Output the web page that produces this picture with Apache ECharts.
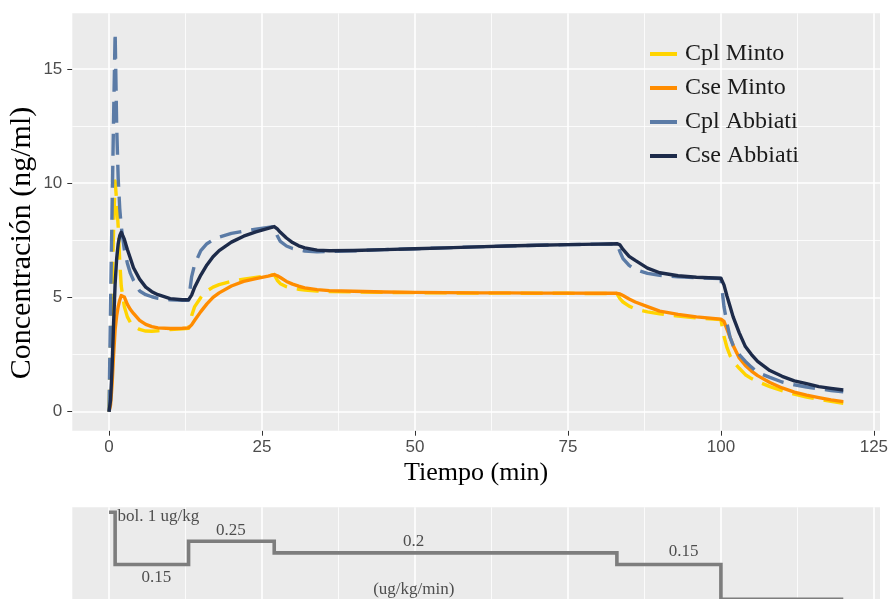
<!DOCTYPE html>
<html>
<head>
<meta charset="utf-8">
<title>Concentración plasmática y en sitio efecto</title>
<script src="https://cdn.jsdelivr.net/npm/echarts@6/dist/echarts.min.js"></script>
<style>
  html, body { margin: 0; padding: 0; background: #ffffff; }
  #chart { width: 893px; height: 599px; }
</style>
</head>
<body>
<div id="chart"></div>
<script>
// Simulated concentrations (ng/ml) against time (min)
const tiempo = [0, 0.25, 0.5, 0.75, 1, 1.25, 1.5, 1.75, 2, 2.5, 3, 3.5, 4, 5, 6, 7, 8, 10, 12, 13,
  13.5, 14, 15, 16, 17, 18, 20, 22, 24, 26, 27, 27.5, 28, 29, 30, 31, 32, 34, 36, 40,
  45, 50, 55, 60, 65, 70, 75, 80, 83, 83.5, 84, 85, 86, 88, 90, 93, 96, 100,
  100.5, 101, 101.5, 102, 103, 104, 105, 106, 108, 110, 112, 114, 116, 118, 120];

const cplMinto = [0, 2.8, 5.5, 8.0, 10.1, 9.2, 8.1, 6.6, 5.5, 4.6, 4.15, 3.9, 3.75, 3.6, 3.53, 3.52, 3.54, 3.6, 3.63, 3.65,
  4.2, 4.6, 5.0, 5.28, 5.45, 5.56, 5.7, 5.8, 5.88, 5.95, 6.0, 5.75, 5.6, 5.47, 5.4, 5.36, 5.32, 5.28, 5.26, 5.24,
  5.22, 5.21, 5.2, 5.19, 5.19, 5.18, 5.18, 5.17, 5.17, 4.95, 4.8, 4.62, 4.5, 4.37, 4.28, 4.18, 4.1, 4.03,
  3.3, 2.8, 2.45, 2.2, 1.9, 1.62, 1.45, 1.32, 1.1, 0.92, 0.77, 0.64, 0.54, 0.45, 0.37];

const cseMinto = [0, 0.3, 1.2, 2.5, 3.6, 4.2, 4.6, 4.88, 5.08, 5.02, 4.7, 4.47, 4.3, 4.0, 3.82, 3.72, 3.67, 3.64, 3.65, 3.67,
  3.8, 4.0, 4.38, 4.72, 5.0, 5.2, 5.5, 5.7, 5.82, 5.93, 6.0, 5.95, 5.87, 5.7, 5.58, 5.49, 5.42, 5.34, 5.3, 5.27,
  5.24, 5.22, 5.21, 5.2, 5.2, 5.19, 5.19, 5.18, 5.18, 5.15, 5.08, 4.93, 4.8, 4.6, 4.4, 4.26, 4.15, 4.05,
  3.95, 3.6, 3.25, 2.9, 2.35, 2.02, 1.78, 1.58, 1.28, 1.04, 0.86, 0.73, 0.62, 0.52, 0.44];

const cplAbbiati = [0, 4.6, 8.8, 12.9, 16.6, 12.5, 10.2, 8.9, 8.1, 7.1, 6.5, 6.05, 5.75, 5.28, 5.12, 5.03, 4.96, 4.9, 4.87, 4.87,
  5.9, 6.45, 7.05, 7.35, 7.52, 7.64, 7.8, 7.9, 7.99, 8.06, 8.1, 7.7, 7.45, 7.25, 7.14, 7.08, 7.03, 7.0, 7.01, 7.04,
  7.09, 7.13, 7.17, 7.21, 7.25, 7.28, 7.31, 7.33, 7.34, 7.0, 6.7, 6.4, 6.22, 6.05, 5.97, 5.9, 5.86, 5.83,
  4.6, 3.85, 3.25, 2.9, 2.5, 2.2, 1.95, 1.72, 1.5, 1.3, 1.18, 1.08, 1.0, 0.93, 0.87];

const cseAbbiati = [0, 0.5, 1.9, 3.9, 5.6, 6.7, 7.35, 7.7, 7.85, 7.55, 7.1, 6.7, 6.3, 5.8, 5.45, 5.25, 5.12, 4.95, 4.9, 4.9,
  5.1, 5.45, 5.98, 6.42, 6.78, 7.05, 7.42, 7.68, 7.87, 8.02, 8.1, 8.0, 7.85, 7.6, 7.4, 7.26, 7.17, 7.07, 7.04, 7.05,
  7.09, 7.13, 7.17, 7.21, 7.25, 7.28, 7.31, 7.33, 7.35, 7.3, 7.1, 6.8, 6.62, 6.28, 6.08, 5.95, 5.88, 5.84,
  5.55, 5.05, 4.6, 4.15, 3.45, 2.85, 2.5, 2.2, 1.8, 1.55, 1.35, 1.23, 1.1, 1.02, 0.95];

const nombres = ['Cpl Minto', 'Cse Minto', 'Cpl Abbiati', 'Cse Abbiati'];
const xTicks = [0, 25, 50, 75, 100, 125];
const yTicks = [0, 5, 10, 15];

// Infusion scheme (ug/kg/min); the first level marks the bolus
const infusionTiempo = [0, 1, 13, 27, 83, 100, 120];
const infusionTasa = [0.375, 0.15, 0.25, 0.2, 0.15, 0, 0];
const infusionTextos = ['bol. 1 ug/kg', '0.15', '0.25', '0.2', '0.15', '(ug/kg/min)'];
const infusionTextoT = [1.4, 7.75, 19.9, 49.8, 93.9, 49.8];
const infusionTextoNivel = [0.355, 0.095, 0.298, 0.248, 0.205, 0.041];

const valores = [cplMinto, cseMinto, cplAbbiati, cseAbbiati];
const colores = ['#FFD400', '#FF8C00', '#5B7BA6', '#1D2B4A'];
const discontinua = [true, false, true, false];

const PANEL_BG = '#EBEBEB';
const SERIF = '"Liberation Serif", "DejaVu Serif", serif';
const SANS = '"Liberation Sans", Arial, sans-serif';

function puntosMedios(ticks) {
  const out = [];
  for (let i = 0; i < ticks.length - 1; i++) out.push((ticks[i] + ticks[i + 1]) / 2);
  return out;
}

function lineaGuia(eje, v, ancho) {
  const d = {};
  d[eje] = v;
  d.lineStyle = { color: '#ffffff', width: ancho, type: 'solid' };
  return d;
}

const xMenores = puntosMedios(xTicks);
const yMenores = puntosMedios(yTicks);

const guiasPrincipal = []
  .concat(xMenores.map(v => lineaGuia('xAxis', v, 0.8)))
  .concat(yMenores.map(v => lineaGuia('yAxis', v, 0.8)))
  .concat(xTicks.map(v => lineaGuia('xAxis', v, 1.6)))
  .concat(yTicks.map(v => lineaGuia('yAxis', v, 1.6)));

const guiasInfusion = []
  .concat(xMenores.map(v => lineaGuia('xAxis', v, 0.8)))
  .concat(xTicks.map(v => lineaGuia('xAxis', v, 1.6)));

// Panel grid lines, kept underneath every curve
function serieGuias(idx, guias) {
  return {
    type: 'line', xAxisIndex: idx, yAxisIndex: idx, data: [], z: 1, silent: true,
    markLine: { z: 1, silent: true, symbol: ['none', 'none'], animation: false, label: { show: false },
      emphasis: { disabled: true }, data: guias }
  };
}

const seriesCurvas = nombres.map((n, k) => ({
  name: n,
  type: 'line',
  xAxisIndex: 0, yAxisIndex: 0,
  data: tiempo.map((t, i) => [t, valores[k][i]]),
  showSymbol: false,
  symbol: 'none',
  z: 3 + k,
  color: colores[k],
  lineStyle: { color: colores[k], width: 3.4, type: discontinua[k] ? [22, 10] : 'solid', cap: 'butt', join: 'round' },
  emphasis: { disabled: true }
}));

// The rate panel runs off the lower edge of the page, so its step line is not clipped
const serieInfusion = {
  type: 'line', xAxisIndex: 1, yAxisIndex: 1, step: 'end', clip: false,
  data: infusionTiempo.map((t, i) => [t, infusionTasa[i]]),
  showSymbol: false, symbol: 'none', z: 3,
  lineStyle: { color: '#7d7d7d', width: 3.6, join: 'miter' },
  emphasis: { disabled: true }
};

const serieTextos = {
  type: 'scatter', xAxisIndex: 1, yAxisIndex: 1, z: 4, silent: true,
  symbolSize: 2, itemStyle: { color: 'rgba(0,0,0,0)' },
  data: infusionTextos.map((txt, i) => ({
    name: txt,
    value: [infusionTextoT[i], infusionTextoNivel[i]],
    label: { align: i === 0 ? 'left' : 'center' }
  })),
  label: {
    show: true, position: 'inside', formatter: p => p.name,
    fontFamily: SERIF, fontSize: 17, color: '#262626', verticalAlign: 'middle'
  },
  labelLayout: { hideOverlap: false },
  emphasis: { disabled: true }
};

const chart = echarts.init(document.getElementById('chart'), null, { renderer: 'canvas' });

chart.setOption({
  animation: false,
  backgroundColor: '#ffffff',
  grid: [
    { left: 72.3, top: 13.3, width: 807.7, height: 417.4, show: true, backgroundColor: PANEL_BG, borderWidth: 0 },
    { left: 72.3, top: 507.3, width: 807.7, height: 91.7, show: true, backgroundColor: PANEL_BG, borderWidth: 0 }
  ],
  xAxis: [
    {
      type: 'value', gridIndex: 0, min: -6, max: 126,
      axisLine: { show: false, onZero: false },
      splitLine: { show: false },
      axisTick: { show: true, length: 5, customValues: xTicks, lineStyle: { color: '#333333', width: 1 } },
      axisLabel: { show: true, customValues: xTicks, margin: 8, fontFamily: SANS, fontSize: 17, color: '#4d4d4d' },
      name: 'Tiempo (min)', nameLocation: 'middle', nameGap: 42,
      nameTextStyle: { fontFamily: SERIF, fontSize: 26, color: '#000000', verticalAlign: 'middle' }
    },
    { type: 'value', gridIndex: 1, min: -6, max: 126, show: false, splitLine: { show: false }, axisLine: { onZero: false } }
  ],
  yAxis: [
    {
      type: 'value', gridIndex: 0, min: -0.83, max: 17.43,
      axisLine: { show: false, onZero: false },
      splitLine: { show: false },
      axisTick: { show: true, length: 5, customValues: yTicks, lineStyle: { color: '#333333', width: 1 } },
      axisLabel: { show: true, customValues: yTicks, margin: 10, fontFamily: SANS, fontSize: 17, color: '#4d4d4d' }
    },
    { type: 'value', gridIndex: 1, min: 0.0013, max: 0.3966, show: false, splitLine: { show: false }, axisLine: { onZero: false } }
  ],
  legend: {
    orient: 'vertical', left: 645, top: 32,
    itemWidth: 27, itemHeight: 4, itemGap: 0, icon: 'rect',
    itemStyle: { borderWidth: 0 },
    textStyle: { fontFamily: SERIF, fontSize: 24, color: '#1a1a1a', lineHeight: 34, padding: [0, 0, 0, 3] },
    data: nombres
  },
  graphic: [
    {
      type: 'text', x: 22, y: 243, rotation: Math.PI / 2, silent: true,
      style: { text: 'Concentración (ng/ml)', font: '30px ' + SERIF, fill: '#000000', align: 'center', verticalAlign: 'middle' }
    }
  ],
  series: [serieGuias(0, guiasPrincipal), serieGuias(1, guiasInfusion)]
    .concat(seriesCurvas)
    .concat([serieInfusion, serieTextos])
});
</script>
</body>
</html>
